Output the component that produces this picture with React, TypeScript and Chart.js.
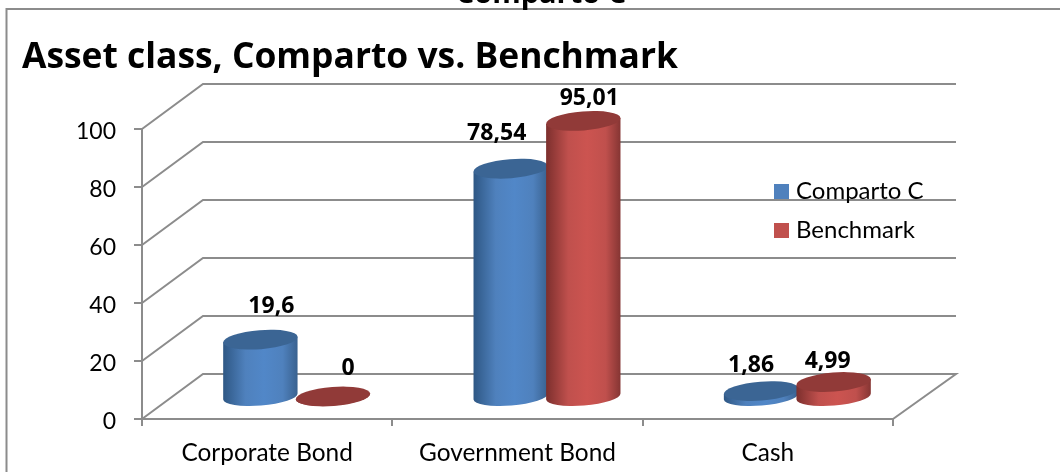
import React, { useEffect, useRef } from "react";
import { Chart, registerables } from "chart.js";

Chart.register(...registerables);

const categories = ["Corporate Bond", "Government Bond", "Cash"];
const seriesNames = ["Comparto C", "Benchmark"];
const compartoValues = [19.6, 78.54, 1.86];
const benchmarkValues = [0, 95.01, 4.99];
const valueTicks = [0, 20, 40, 60, 80, 100];

const FONT = "Lato, Carlito, sans-serif";
const HEAD_FONT = "'Open Sans', sans-serif";
const GRID = "#8c8c8c";
const DEPTH_X = 59;
const DEPTH_Y = -45;

const palette = [
  { fill: "#4f81bd", edgeL: "#2e5784", mid: "#5187c8", edgeR: "#39618f", cap: "#3b6594" },
  { fill: "#c0504d", edgeL: "#7c2f2d", mid: "#cc5450", edgeR: "#853533", cap: "#913a38" },
];

// nudges of the value labels from the top of their cylinder
const labelNudge = [
  [[10, -33], [-15, -35], [-11, -26]],
  [[14, -28], [5, -22], [-7, -21]],
];

const fmt = (v: number) => String(v).replace(".", ",");

const cylinder3d = {
  id: "cylinder3d",
  beforeLayout(chart: any) {
    const lg = chart.legend;
    if (lg && !lg.__patched) {
      const orig = lg.fit;
      lg.fit = function () {
        orig.call(this);
        this.width = 0;
      };
      lg.__patched = true;
    }
  },
  beforeDraw(chart: any) {
    const { ctx, scales } = chart;
    const { x: xs, y: ys } = scales;
    ctx.save();
    ctx.fillStyle = "#ffffff";
    ctx.fillRect(0, 0, chart.width, chart.height);
    ctx.strokeStyle = GRID;
    ctx.lineWidth = 2;
    ctx.beginPath();
    ctx.moveTo(6.5, chart.height);
    ctx.lineTo(6.5, 9);
    ctx.lineTo(chart.width, 9);
    ctx.stroke();
    ctx.fillStyle = "#000";
    ctx.font = `bold 29px ${HEAD_FONT}`;
    ctx.textAlign = "center";
    ctx.textBaseline = "alphabetic";
    ctx.fillText(seriesNames[0], 541, 3);
    const l = xs.left;
    const r = xs.right;
    ctx.strokeStyle = GRID;
    ctx.lineWidth = 2;
    valueTicks.forEach((t) => {
      const y = ys.getPixelForValue(t);
      ctx.beginPath();
      ctx.moveTo(l, y);
      ctx.lineTo(l + 61, y + DEPTH_Y);
      ctx.lineTo(r + 63, y + DEPTH_Y);
      if (t === 0) ctx.lineTo(r, y);
      ctx.stroke();
    });
    ctx.restore();
  },
  beforeDatasetDraw() {
    return false;
  },
  afterLayout(chart: any) {
    const lg = chart.legend;
    if (lg) {
      lg.left = 764;
      lg.right = 1000;
      lg.top = 164.5;
      lg.bottom = 320;
    }
  },
  afterDatasetsDraw(chart: any) {
    const { ctx, scales } = chart;
    const ys = scales.y;
    const rot = (-4.5 * Math.PI) / 180;
    const ry = 9;
    ctx.save();
    categories.forEach((_, c) => {
      chart.data.datasets.forEach((ds: any, d: number) => {
        const bar = chart.getDatasetMeta(d).data[c];
        const p = palette[d];
        const cx = bar.x + DEPTH_X / 2;
        const rx = bar.width / 2 + 1;
        const yBase = ys.getPixelForValue(0) + DEPTH_Y / 2;
        const yTop = ys.getPixelForValue(ds.data[c]) + DEPTH_Y / 2;
        const g = ctx.createLinearGradient(cx - rx, 0, cx + rx, 0);
        g.addColorStop(0, p.edgeL);
        g.addColorStop(0.3, p.fill);
        g.addColorStop(0.55, p.mid);
        g.addColorStop(0.8, p.fill);
        g.addColorStop(1, p.edgeR);
        ctx.fillStyle = g;
        ctx.beginPath();
        ctx.ellipse(cx, yBase, rx, ry, rot, 0, Math.PI);
        ctx.lineTo(cx - rx * Math.cos(rot), yTop - rx * Math.sin(rot));
        ctx.lineTo(cx + rx * Math.cos(rot), yTop + rx * Math.sin(rot));
        ctx.closePath();
        ctx.fill();
        ctx.fillStyle = p.cap;
        ctx.beginPath();
        ctx.ellipse(cx, yTop, rx, ry + 0.5, rot, 0, Math.PI * 2);
        ctx.fill();
      });
    });
    ctx.fillStyle = "#000";
    ctx.font = `bold 23px ${HEAD_FONT}`;
    ctx.textAlign = "center";
    ctx.textBaseline = "middle";
    chart.data.datasets.forEach((ds: any, d: number) => {
      ds.data.forEach((v: number, c: number) => {
        const bar = chart.getDatasetMeta(d).data[c];
        const [nx, ny] = labelNudge[d][c];
        ctx.fillText(
          fmt(v),
          bar.x + 30.5 + nx,
          ys.getPixelForValue(v) + DEPTH_Y / 2 + ny
        );
      });
    });
    ctx.restore();
  },
};

export default function App() {
  const ref = useRef<HTMLCanvasElement>(null);
  useEffect(() => {
    document.body.style.margin = "0";
    const chart = new Chart(ref.current as HTMLCanvasElement, {
      type: "bar",
      data: {
        labels: categories,
        datasets: [
          { label: seriesNames[0], data: compartoValues, backgroundColor: palette[0].fill },
          { label: seriesNames[1], data: benchmarkValues, backgroundColor: palette[1].fill },
        ],
      },
      plugins: [cylinder3d],
      options: {
        responsive: false,
        animation: false,
        layout: { padding: { left: 22, right: 167, top: 0, bottom: 0 } },
        datasets: { bar: { categoryPercentage: 0.58, barPercentage: 1 } },
        plugins: {
          tooltip: { enabled: false },
          title: {
            display: true,
            text: "Asset class, Comparto vs. Benchmark",
            align: "start",
            color: "#000",
            font: { family: HEAD_FONT, size: 35.4, weight: "bold", lineHeight: 1.2 },
            padding: { top: 37, bottom: 49.5 },
          },
          legend: {
            display: true,
            position: "right",
            align: "start",
            labels: {
              color: "#000",
              font: { family: FONT, size: 24, lineHeight: 1 },
              boxWidth: 5,
              boxHeight: 5,
              padding: 15,
              generateLabels: (c: any) =>
                c.data.datasets.map((ds: any, i: number) => ({
                  text: ds.label,
                  fillStyle: ds.backgroundColor,
                  strokeStyle: ds.backgroundColor,
                  lineWidth: 10,
                  datasetIndex: i,
                  fontColor: "#000",
                })),
            },
          },
        },
        scales: {
          x: {
            offset: true,
            afterFit: (s: any) => {
              s.height = 53;
            },
            grid: { offset: true, drawOnChartArea: false, drawTicks: true, tickLength: 7, color: GRID, lineWidth: 2 },
            border: { display: true, color: GRID, width: 2 },
            ticks: { color: "#000", padding: 13, font: { family: FONT, size: 24.4 } },
          },
          y: {
            min: 0,
            max: 100,
            afterFit: (s: any) => {
              s.width = 120;
            },
            afterBuildTicks: (s: any) => {
              s.ticks = valueTicks.map((value) => ({ value }));
            },
            grid: { drawOnChartArea: false, drawTicks: true, tickLength: 8, color: GRID, lineWidth: 2 },
            border: { display: true, color: GRID, width: 2 },
            ticks: { color: "#000", padding: 18, labelOffset: 3, font: { family: FONT, size: 23 } },
          },
        },
      },
    } as any);
    return () => chart.destroy();
  }, []);
  return <canvas ref={ref} width={1060} height={472} style={{ display: "block" }} />;
}
